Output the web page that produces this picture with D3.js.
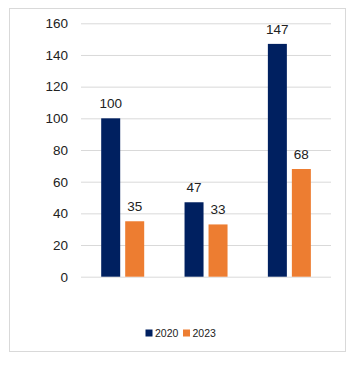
<!DOCTYPE html>
<html><head><meta charset="utf-8">
<script src="https://cdn.jsdelivr.net/npm/d3@7"></script>
<style>
html,body{margin:0;padding:0;background:#fff;}
svg{display:block;font-family:"Liberation Sans","Open Sans",sans-serif;}
</style></head>
<body>
<svg id="chart" width="355" height="367"></svg>
<script>
const categories = ["1", "2", "3"];
const seriesNames = ["2020", "2023"];
const values2020 = [100, 47, 147];
const values2023 = [35, 33, 68];
const yTicks = [0, 20, 40, 60, 80, 100, 120, 140, 160];
const colors = ["#002060", "#ED7D31"];

(function () {
const svg = d3.select("#chart");
svg.append("rect").attr("x", 9.5).attr("y", 8.5).attr("width", 336).attr("height", 343)
  .attr("fill", "#fff").attr("stroke", "#d9d9d9");

const mLeft = 81, mRight = 331, mTop = 23.3, mBottom = 276.7;
const y = d3.scaleLinear().domain([0, 160]).range([mBottom, mTop]);
const x0 = d3.scaleBand().domain(categories).range([mLeft, mRight]).paddingInner(0).paddingOuter(0);
const x1 = d3.scaleBand().domain(seriesNames).range([20.2, 20.2 + 43]).paddingInner(5/24).paddingOuter(0);

const yAxis = d3.axisLeft(y).tickValues(yTicks).tickSize(-(mRight - mLeft)).tickPadding(13);
const ga = svg.append("g").attr("transform", `translate(${mLeft},0)`).call(yAxis);
ga.select(".domain").remove();
ga.selectAll(".tick line").attr("stroke", "#d9d9d9").attr("stroke-width", 1);
ga.selectAll(".tick text").attr("fill", "#222").style("font-size", "13.5px");

const data = categories.map((c, i) => ({cat: c, vals: [values2020[i], values2023[i]]}));
const groups = svg.append("g").selectAll("g").data(data).join("g")
  .attr("transform", d => `translate(${x0(d.cat)},0)`);
groups.selectAll("rect").data(d => d.vals.map((v, j) => ({s: seriesNames[j], v, j})))
  .join("rect")
  .attr("x", d => x1(d.s)).attr("width", x1.bandwidth())
  .attr("y", d => y(d.v)).attr("height", d => y(0) - y(d.v))
  .attr("fill", d => colors[d.j]);
groups.selectAll("text").data(d => d.vals.map((v, j) => ({s: seriesNames[j], v, j})))
  .join("text")
  .attr("x", d => x1(d.s) + x1.bandwidth() / 2).attr("y", d => y(d.v) - 10)
  .attr("text-anchor", "middle").attr("fill", "#222").style("font-size", "13.5px")
  .text(d => d.v);

const leg = svg.append("g").attr("transform", "translate(145.5,333)");
const legX = [0, 37.5];
seriesNames.forEach((s, i) => {
  const g = leg.append("g").attr("transform", `translate(${legX[i]},0)`);
  g.append("rect").attr("x", 0).attr("y", -3.5).attr("width", 7).attr("height", 7).attr("fill", colors[i]);
  g.append("text").attr("x", 9.5).attr("y", 0).attr("dy", "0.35em").attr("fill", "#222")
    .style("font-size", "10.5px").text(s);
});
})();
</script>
</body></html>
